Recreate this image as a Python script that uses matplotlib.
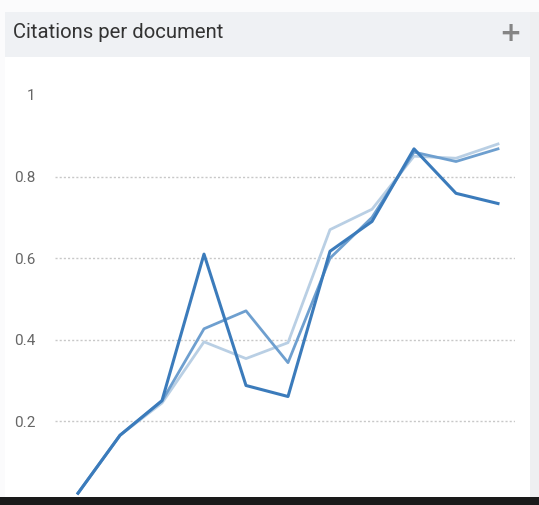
import matplotlib
matplotlib.use("Agg")
import matplotlib.pyplot as plt
from matplotlib.patches import Rectangle

# data (11 periods, no x labels shown)
periods = list(range(11))
series_dark = [0.024, 0.166, 0.251, 0.610, 0.288, 0.261, 0.617, 0.690, 0.868, 0.759, 0.734]
series_mid = [0.024, 0.166, 0.250, 0.427, 0.471, 0.344, 0.600, 0.700, 0.860, 0.837, 0.868]
series_light = [0.024, 0.166, 0.245, 0.395, 0.354, 0.393, 0.670, 0.720, 0.850, 0.845, 0.880]
y_ticks = [0, 0.2, 0.4, 0.6, 0.8, 1]
y_tick_labels = ["0", "0.2", "0.4", "0.6", "0.8", "1"]
title = "Citations per document"

W, H = 539, 505
fig = plt.figure(figsize=(W / 100, H / 100), dpi=100)
fig.patch.set_facecolor("#fbfbfc")

def px(x0, y0, x1, y1):
    # pixel box (top-left origin) -> figure fraction rect
    return (x0 / W, 1 - y1 / H, (x1 - x0) / W, (y1 - y0) / H)

# card body, header strip, right border strip
r = px(5, 12, 530, 505)
fig.add_artist(Rectangle(r[:2], r[2], r[3], transform=fig.transFigure,
                         facecolor="white", edgecolor="none", zorder=0))
r = px(5, 12, 530, 57)
fig.add_artist(Rectangle(r[:2], r[2], r[3], transform=fig.transFigure,
                         facecolor="#eff1f4", edgecolor="none", zorder=0))
r = px(530, 12, 539, 505)
fig.add_artist(Rectangle(r[:2], r[2], r[3], transform=fig.transFigure,
                         facecolor="#eeeff1", edgecolor="none", zorder=0))

fig.text(13 / W, 1 - 32 / H, title, fontsize=14.6, color="#333333",
         ha="left", va="center", family="Roboto")
fig.text(510 / W, 1 - 34 / H, "+", fontsize=19, color="#858585",
         ha="center", va="center", family="DejaVu Sans", weight="bold")

ax = fig.add_axes(px(55, 95, 515, 503))
ax.set_facecolor("none")
ax.set_xlim(-23 / 42, 10 + 17 / 42)
ax.set_ylim(0, 1)

ax.plot(periods, series_light, color="#b9cfe4", lw=2.0, zorder=3)
ax.plot(periods, series_mid, color="#6e9fcf", lw=2.0, zorder=4)
ax.plot(periods, series_dark, color="#3b7bbb", lw=2.2, zorder=5)

ax.set_yticks(y_ticks)
ax.set_yticklabels(y_tick_labels, fontsize=11, color="#666666", family="Roboto")
ax.tick_params(axis="y", length=0, pad=14)
ax.set_xticks([])
for y in [0.2, 0.4, 0.6, 0.8]:
    ax.axhline(y, color="#c8c8c8", lw=1, ls=(0, (1.5, 1.5)), zorder=1)
for s in ax.spines.values():
    s.set_visible(False)

# dark bar cutting the bottom of the screenshot
r = px(0, 497, 539, 505)
fig.add_artist(Rectangle(r[:2], r[2], r[3], transform=fig.transFigure,
                         facecolor="#1a1a1a", edgecolor="none", zorder=10))

fig.savefig("out.png", dpi=100, facecolor=fig.get_facecolor())
